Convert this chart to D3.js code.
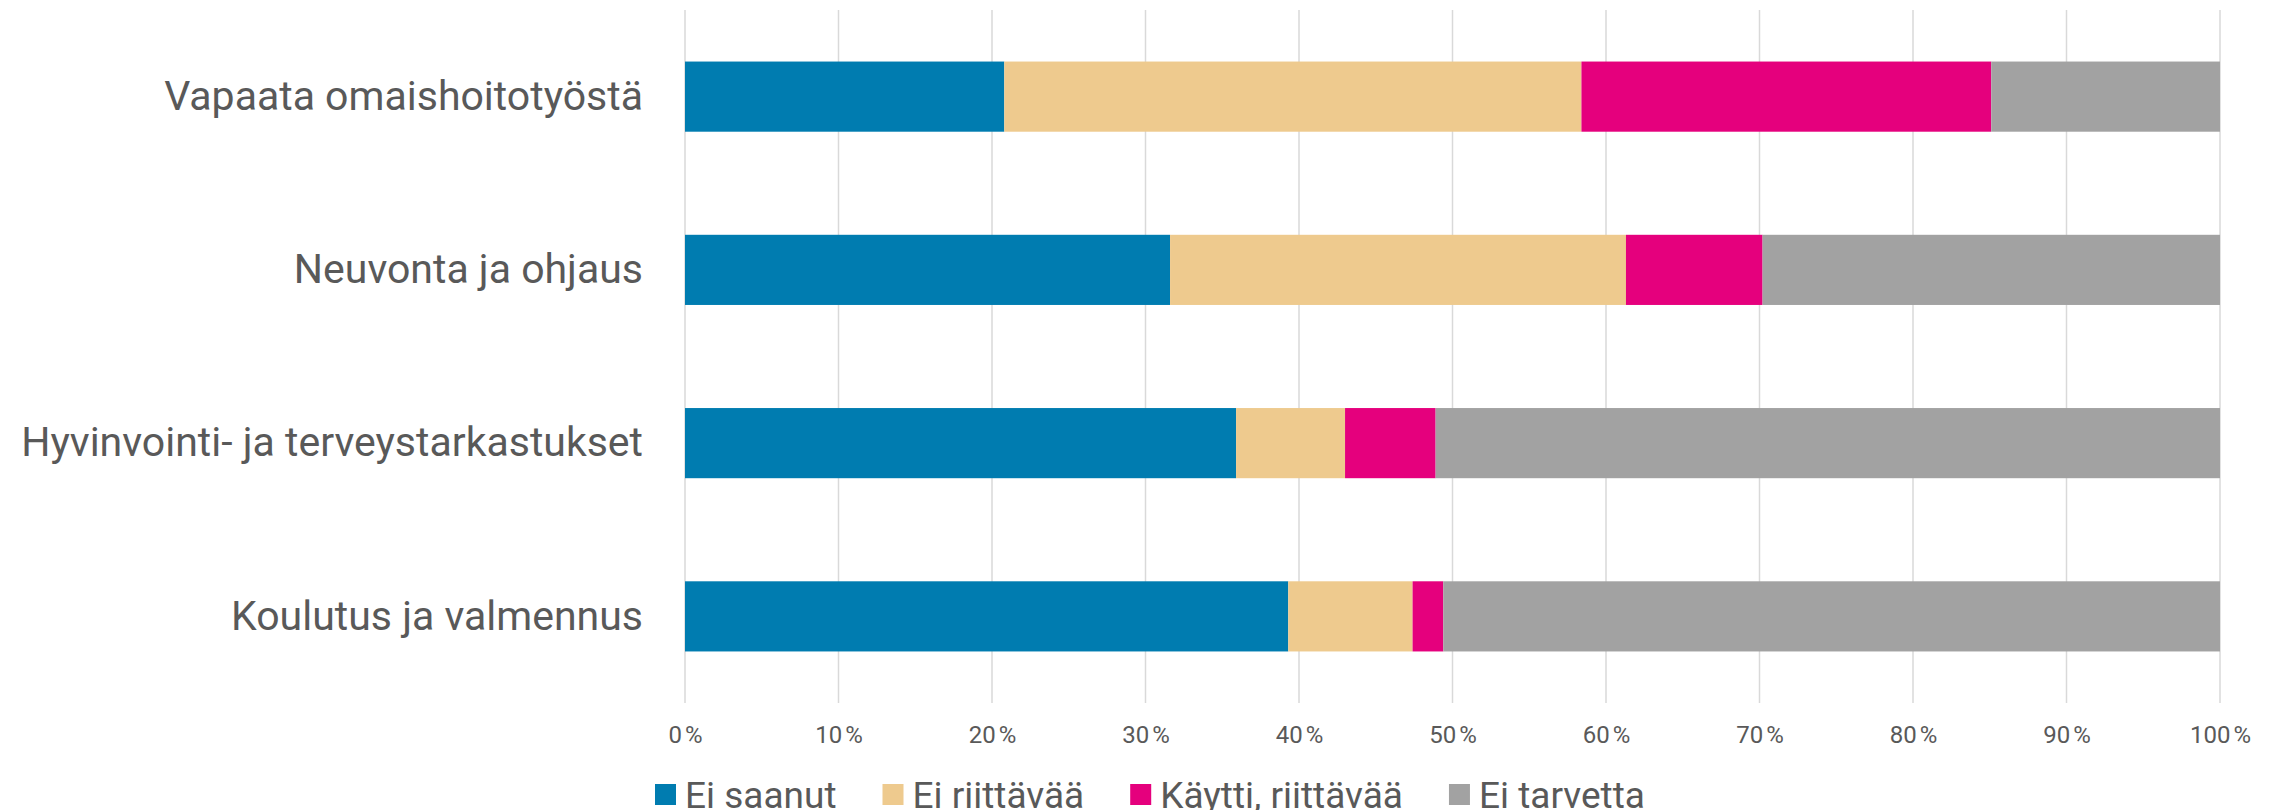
<!DOCTYPE html>
<html>
<head>
    <meta charset="utf-8">
    <title>Palvelujen käyttö</title>
    <script src="https://d3js.org/d3.v7.min.js"></script>
    <style>
        body { margin: 0; background: #fff; }
        svg text { font-family: Roboto, "Liberation Sans", sans-serif; fill: #595959; }
    </style>
</head>
<body>
    <script>
        const categories = ["Vapaata omaishoitotyöstä", "Neuvonta ja ohjaus", "Hyvinvointi- ja terveystarkastukset", "Koulutus ja valmennus"];
        const seriesNames = ["Ei saanut", "Ei riittävää", "Käytti, riittävää", "Ei tarvetta"];
        const seriesColors = ["#007cb0", "#eeca8e", "#e5007d", "#a2a2a2"];
        const eiSaanut = [20.8, 31.6, 35.9, 39.3];
        const eiRiittavaa = [37.6, 29.7, 7.1, 8.1];
        const kayttiRiittavaa = [26.7, 8.9, 5.9, 2.0];
        const eiTarvetta = [14.9, 29.8, 51.1, 50.6];
        const tickValues = [0, 10, 20, 30, 40, 50, 60, 70, 80, 90, 100];

        const width = 2277, height = 810;
        const margin = { top: 10, right: 57, bottom: 107, left: 685 };

        const svg = d3.select("body").append("svg")
            .attr("width", width)
            .attr("height", height);

        const rows = categories.map((c, i) => ({
            category: c,
            "Ei saanut": eiSaanut[i],
            "Ei riittävää": eiRiittavaa[i],
            "Käytti, riittävää": kayttiRiittavaa[i],
            "Ei tarvetta": eiTarvetta[i]
        }));

        const stacked = d3.stack().keys(seriesNames)(rows);

        const x = d3.scaleLinear().domain([0, 100]).range([margin.left, width - margin.right]);
        const y = d3.scaleBand().domain(categories)
            .range([margin.top, height - margin.bottom])
            .paddingInner(0.595).paddingOuter(0.2975);
        const color = d3.scaleOrdinal().domain(seriesNames).range(seriesColors);

        // gridlines
        svg.append("g")
            .selectAll("line")
            .data(tickValues)
            .join("line")
            .attr("x1", d => x(d)).attr("x2", d => x(d))
            .attr("y1", margin.top).attr("y2", height - margin.bottom)
            .attr("stroke", "#d9d9d9")
            .attr("stroke-width", 1.5);

        // bars
        svg.append("g")
            .selectAll("g")
            .data(stacked)
            .join("g")
            .attr("fill", d => color(d.key))
            .selectAll("rect")
            .data(d => d)
            .join("rect")
            .attr("x", d => x(d[0]))
            .attr("y", d => y(d.data.category))
            .attr("width", d => x(d[1]) - x(d[0]))
            .attr("height", y.bandwidth());

        // x axis
        const xAxis = svg.append("g")
            .attr("transform", `translate(0,${height - margin.bottom})`)
            .call(d3.axisBottom(x).tickValues(tickValues).tickSize(0).tickPadding(23).tickFormat(d => d + "\u202f%"));
        xAxis.select(".domain").remove();
        xAxis.selectAll("text").style("font-size", "24px").attr("fill", "#595959");

        // y axis
        const yAxis = svg.append("g")
            .attr("transform", `translate(${margin.left},0)`)
            .call(d3.axisLeft(y).tickSize(0).tickPadding(42));
        yAxis.select(".domain").remove();
        yAxis.selectAll("text").style("font-size", "41px").attr("fill", "#595959");

        // legend
        const legend = svg.append("g")
            .attr("transform", "translate(655,784)");
        let lx = 0;
        seriesNames.forEach(name => {
            const item = legend.append("g").attr("transform", `translate(${lx},0)`);
            item.append("rect")
                .attr("width", 21).attr("height", 21)
                .attr("fill", color(name));
            const t = item.append("text")
                .attr("x", 30).attr("y", 24)
                .style("font-size", "37px")
                .text(name);
            lx += 30 + t.node().getComputedTextLength() + 46;
        });
    </script>
</body>
</html>
